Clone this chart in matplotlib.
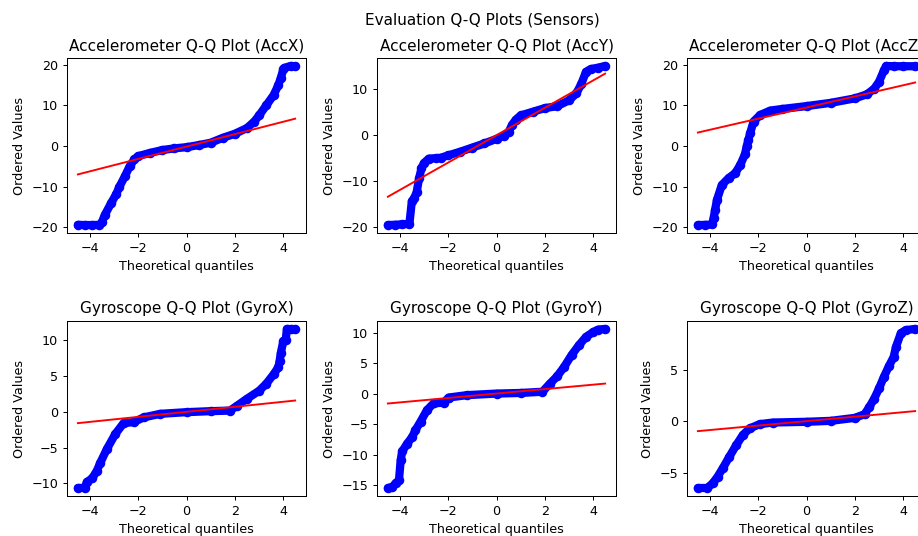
import matplotlib
matplotlib.use("Agg")
import matplotlib.pyplot as plt

# ---- data (theoretical quantile, ordered value) ----
titles = ["Accelerometer Q-Q Plot (AccX)", "Accelerometer Q-Q Plot (AccY)",
          "Accelerometer Q-Q Plot (AccZ)", "Gyroscope Q-Q Plot (GyroX)",
          "Gyroscope Q-Q Plot (GyroY)", "Gyroscope Q-Q Plot (GyroZ)"]

q_accx = [-4.49, -4.2, -3.9, -3.6, -3.5, -3.38, -3.11, -2.9, -2.77, -2.55, -2.35, -2.15, -2.0,
          -1.5, -1.0, -0.5, 0.0, 0.5, 1.0, 1.5, 2.0, 2.5, 2.8, 3.0, 3.3, 3.6, 3.8, 3.9, 4.0,
          4.05, 4.3, 4.49]
v_accx = [-19.4, -19.45, -19.45, -19.4, -18.8, -17.0, -14.0, -11.8, -10.0, -7.5, -5.0, -3.3, -2.5,
          -1.7, -1.0, -0.6, -0.3, 0.2, 0.8, 2.0, 3.0, 4.4, 6.0, 7.5, 10.0, 12.5, 15.0, 16.8, 18.8,
          19.2, 19.67, 19.6]
fit_accx = [-7.0, 6.7]

q_accy = [-4.49, -4.2, -3.9, -3.6, -3.5, -3.4, -3.3, -3.2, -3.1, -3.0, -2.8, -2.5, -2.3, -2.0,
          -1.5, -1.0, -0.5, 0.0, 0.3, 0.5, 0.65, 0.8, 1.0, 1.5, 2.0, 2.5, 3.0, 3.3, 3.5, 3.7,
          3.9, 4.2, 4.49]
v_accy = [-19.66, -19.6, -19.5, -19.4, -14.5, -13.8, -12.5, -9.5, -7.3, -6.2, -5.2, -5.1, -5.0,
          -4.5, -3.7, -2.8, -1.9, -0.9, -0.2, 0.6, 2.2, 3.3, 4.2, 5.0, 5.8, 6.2, 7.5, 9.0, 11.0,
          13.7, 14.3, 14.6, 14.97]
fit_accy = [-13.5, 13.3]

q_accz = [-4.49, -4.2, -3.9, -3.84, -3.78, -3.7, -3.5, -3.22, -2.95, -2.74, -2.54, -2.47, -2.4,
          -2.33, -2.19, -1.92, -1.5, -1.0, 0.0, 1.0, 2.0, 2.5, 2.8, 3.0, 3.2, 3.3, 3.6, 4.0, 4.49]
v_accz = [-19.44, -19.4, -19.3, -17.7, -15.8, -13.2, -9.6, -7.9, -6.7, -4.7, -2.0, 0.0, 1.5,
          3.1, 6.0, 7.6, 8.7, 9.1, 9.8, 10.6, 11.7, 12.7, 14.1, 15.8, 18.6, 19.67, 19.6, 19.6, 19.6]
fit_accz = [3.3, 15.6]

q_gyrox = [-4.49, -4.2, -4.12, -3.9, -3.7, -3.56, -3.29, -2.94, -2.6, -2.18, -1.77, -1.08, 0.0,
           1.0, 1.8, 2.1, 2.5, 3.0, 3.3, 3.6, 3.8, 3.85, 3.9, 4.0, 4.1, 4.15, 4.3, 4.49]
v_gyrox = [-10.64, -10.6, -9.8, -9.3, -8.2, -7.1, -5.2, -3.1, -1.6, -1.45, -0.8, -0.3, -0.07,
           0.07, 0.15, 0.85, 1.8, 2.9, 3.9, 5.2, 6.2, 7.1, 8.2, 9.8, 10.0, 11.52, 11.5, 11.5]
fit_gyrox = [-1.6, 1.55]

q_gyroy = [-4.49, -4.3, -4.17, -4.03, -3.96, -3.9, -3.69, -3.48, -3.35, -3.14, -2.87, -2.6,
           -2.18, -1.98, -1.22, 0.0, 1.0, 1.9, 2.2, 2.5, 2.8, 3.1, 3.4, 3.7, 4.0, 4.2, 4.49]
v_gyroy = [-15.5, -15.3, -14.7, -14.2, -10.9, -9.5, -8.2, -7.1, -6.0, -4.6, -2.7, -1.6,
           -1.5, -0.65, -0.26, 0.0, 0.1, 0.3, 1.6, 2.8, 4.4, 6.3, 7.9, 9.3, 10.1, 10.5, 10.6]
fit_gyroy = [-1.63, 1.64]

q_gyroz = [-4.49, -4.1, -3.88, -3.67, -3.46, -3.19, -2.91, -2.63, -2.35, -1.94, -1.39, 0.0,
           1.0, 2.0, 2.4, 2.6, 2.8, 3.0, 3.2, 3.4, 3.6, 3.7, 3.9, 4.1, 4.49]
v_gyroz = [-6.41, -6.4, -5.96, -5.3, -4.5, -3.4, -2.3, -1.3, -0.67, -0.26, -0.1, -0.03,
           0.06, 0.35, 0.7, 1.4, 2.2, 3.2, 4.3, 5.3, 6.2, 7.2, 8.5, 8.8, 8.91]
fit_gyroz = [-0.93, 1.0]

q_series = [q_accx, q_accy, q_accz, q_gyrox, q_gyroy, q_gyroz]
v_series = [v_accx, v_accy, v_accz, v_gyrox, v_gyroy, v_gyroz]
fits = [fit_accx, fit_accy, fit_accz, fit_gyrox, fit_gyroy, fit_gyroz]

# ---- layout ----
W, H = 918, 536
DPI = 91.5
fig = plt.figure(figsize=(W / DPI, H / DPI), dpi=DPI)
lefts = [67, 377, 687]
tops = [58, 321]
aw, ah = 239, 175

for i in range(6):
    r, c = divmod(i, 3)
    ax = fig.add_axes([lefts[c] / W, 1 - (tops[r] + ah) / H, aw / W, ah / H])
    q = q_series[i]
    v = v_series[i]
    ax.plot(q, v, color="blue", marker="o", ms=6.5, lw=6.5,
            solid_capstyle="round", solid_joinstyle="round")
    ax.plot([q[0], q[-1]], fits[i], color="red", lw=1.5)
    ax.set_title(titles[i], fontsize=12)
    ax.set_xlabel("Theoretical quantiles", fontsize=10)
    ax.set_ylabel("Ordered Values", fontsize=10)

fig.suptitle("Evaluation Q-Q Plots (Sensors)", x=482 / W, y=1 - 20 / H, va="center", fontsize=12)
fig.savefig("out.png", dpi=DPI)
